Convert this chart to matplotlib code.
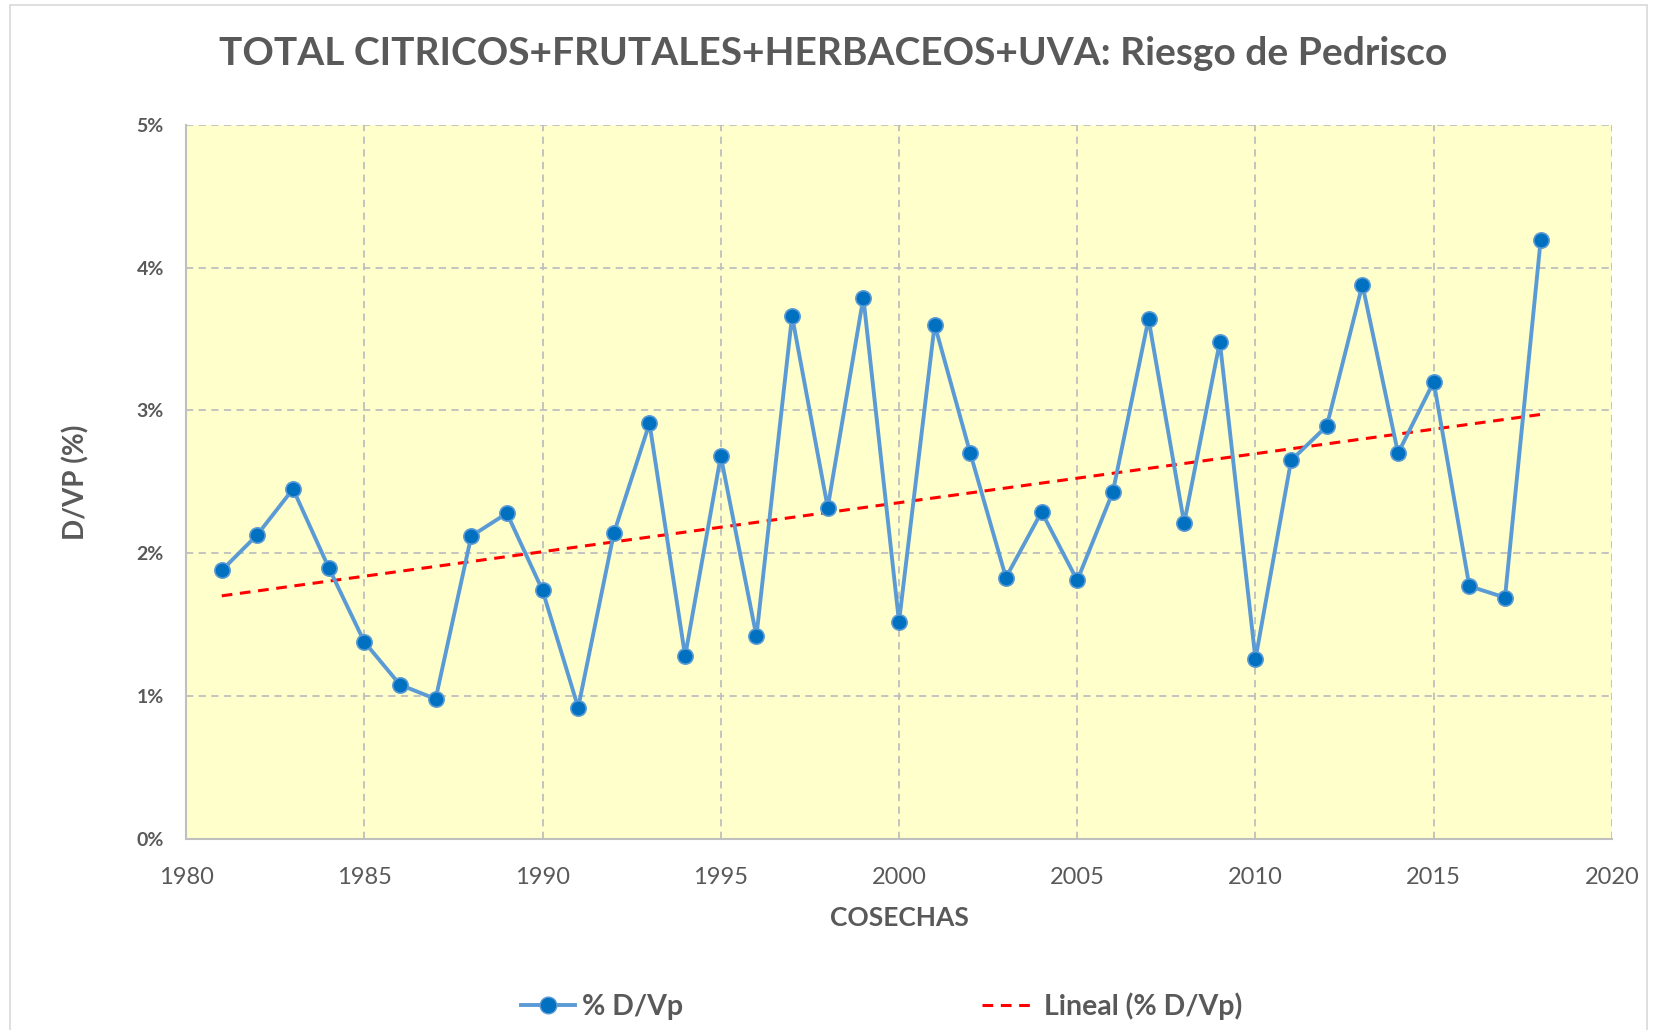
import numpy as np
import matplotlib
matplotlib.use("Agg")
import matplotlib.pyplot as plt
from matplotlib.patches import Rectangle
from matplotlib.ticker import FuncFormatter, MultipleLocator
from matplotlib.lines import Line2D

plt.rcParams['font.family'] = ['Lato', 'DejaVu Sans']

years = list(range(1981, 2019))
values = [1.88, 2.13, 2.45, 1.90, 1.38, 1.08, 0.98, 2.12, 2.28, 1.74,
          0.92, 2.14, 2.91, 1.28, 2.68, 1.42, 3.66, 2.32, 3.79, 1.52,
          3.60, 2.70, 1.83, 2.29, 1.81, 2.43, 3.64, 2.21, 3.48, 1.26,
          2.65, 2.89, 3.88, 2.70, 3.20, 1.77, 1.69, 4.19]
title = "TOTAL CITRICOS+FRUTALES+HERBACEOS+UVA: Riesgo de Pedrisco"
xlabel = "COSECHAS"
ylabel = "D/VP (%)"
series_name = "% D/Vp"
trend_name = "Lineal (% D/Vp)"

gray = "#595959"
fig = plt.figure(figsize=(16.57, 10.30), dpi=100)
fig.patches.append(Rectangle((0.006, -0.01), 0.988, 1.005, transform=fig.transFigure,
                             fill=False, edgecolor="#D9D9D9", linewidth=1.2))

ax = fig.add_axes([0.1123, 0.1854, 0.9728 - 0.1123, 0.879 - 0.1854])
ax.set_facecolor("#FFFFCC")

x = np.array(years, dtype=float)
y = np.array(values)
coef = np.polyfit(x, y, 1)
ax.plot(x, np.polyval(coef, x), color="#FF0000", linestyle=(0, (3.5, 2.5)), linewidth=2.2, zorder=3)
ax.plot(x, y, color="#5B9BD5", linewidth=2.8, marker="o", markersize=11,
        markerfacecolor="#0070C0", markeredgecolor="#5B9BD5", markeredgewidth=1.2, zorder=4)

ax.set_xlim(1980, 2020)
ax.set_ylim(0, 5)
ax.xaxis.set_major_locator(MultipleLocator(5))
ax.yaxis.set_major_locator(MultipleLocator(1))
ax.yaxis.set_major_formatter(FuncFormatter(lambda v, p: f"{int(round(v))}%"))
ax.grid(True, color="#BFBFBF", linestyle=(0, (4, 3)), linewidth=1.3)
ax.set_axisbelow(True)
for s in ["top", "right"]:
    ax.spines[s].set_visible(False)
for s in ["left", "bottom"]:
    ax.spines[s].set_color("#BFBFBF")
    ax.spines[s].set_linewidth(1.5)
ax.tick_params(axis="both", length=0, colors=gray)
ax.tick_params(axis="x", labelsize=17, pad=20)
ax.tick_params(axis="y", labelsize=14, pad=16)
for t in ax.get_yticklabels():
    t.set_fontweight("bold")

ax.set_xlabel(xlabel, fontsize=19, fontweight="bold", color=gray, labelpad=13)
ax.set_ylabel(ylabel, fontsize=20, fontweight="bold", color=gray, labelpad=34)
fig.text(0.503, 0.948, title, ha="center", va="center", fontsize=28, fontweight="bold", color=gray)

h1 = Line2D([], [], color="#5B9BD5", linewidth=2.8, marker="o", markersize=12,
            markerfacecolor="#0070C0", markeredgecolor="#5B9BD5")
h2 = Line2D([], [], color="#FF0000", linestyle=(0, (3.5, 2.5)), linewidth=2.2)
fig.legend([h1, h2], [series_name, trend_name], loc="center", bbox_to_anchor=(0.532, 0.023),
           ncol=2, frameon=False, labelcolor=gray, columnspacing=10.5,
           handlelength=1.9, handletextpad=0.25, prop={"weight": "bold", "size": 20.5})

fig.savefig("out.png", dpi=100)
